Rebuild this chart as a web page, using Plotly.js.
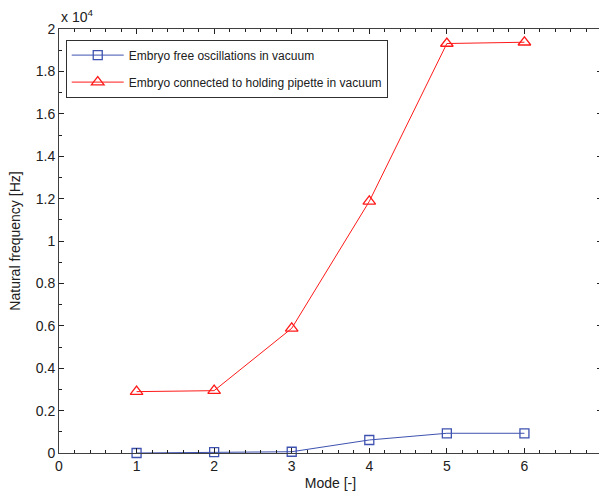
<!DOCTYPE html>
<html>
<head>
<meta charset="utf-8">
<script src="https://cdn.plot.ly/plotly-3.0.1.min.js"></script>
<style>
html, body { margin: 0; padding: 0; overflow: hidden; background: #fff; }
#chart { width: 603px; height: 501px; }
</style>
</head>
<body>
<div id="chart"></div>
<script>
var modes = [1, 2, 3, 4, 5, 6];
var freeVacuum = [0, 40, 60, 614, 930, 930];
var pipetteVacuum = [2895, 2940, 5880, 11868, 19315, 19376];
var yTickVals = [0, 2000, 4000, 6000, 8000, 10000, 12000, 14000, 16000, 18000, 20000];
var yTickText = ['0', '0.2', '0.4', '0.6', '0.8', '1', '1.2', '1.4', '1.6', '1.8', '2'];
var xTickVals = [0, 1, 2, 3, 4, 5, 6, 7];
var seriesNames = ['Embryo free oscillations in vacuum', 'Embryo connected to holding pipette in vacuum'];

var font = 'Liberation Sans, Arial, Helvetica, sans-serif';

var traces = [
  {
    x: modes, y: freeVacuum, name: seriesNames[0], type: 'scatter', mode: 'lines+markers',
    legendgroup: 'a', cliponaxis: false,
    line: {color: '#3e52b0', width: 1},
    marker: {symbol: 'square-open', size: 9, color: '#3e52b0', line: {width: 1.3}}
  },
  {
    x: modes, y: pipetteVacuum, name: seriesNames[1], type: 'scatter', mode: 'lines+markers',
    legendgroup: 'b', cliponaxis: false,
    line: {color: '#ff1a1a', width: 1},
    marker: {symbol: 'triangle-up-open', size: 11, color: '#ff1a1a', line: {width: 1.3}}
  }
];

var axisCommon = {
  showline: true, linecolor: '#404040', linewidth: 1, mirror: 'allticks',
  ticks: 'inside', ticklen: 5, tickcolor: '#202020', tickwidth: 1,
  showgrid: false, zeroline: false,
  tickfont: {family: font, size: 14, color: '#202020'}
};

var layout = {
  width: 603, height: 501,
  margin: {l: 59, r: 1, t: 29, b: 48},
  paper_bgcolor: '#fff', plot_bgcolor: '#fff',
  font: {family: font, color: '#202020'},
  showlegend: true,
  legend: {
    x: 0.0124, y: 0.975, xanchor: 'left', yanchor: 'top',
    bgcolor: '#fff', bordercolor: '#303030', borderwidth: 1,
    font: {family: font, size: 12, color: '#202020'},
    tracegroupgap: 8, traceorder: 'grouped', itemwidth: 52
  },
  xaxis: Object.assign({}, axisCommon, {
    range: [0, 7], tickmode: 'array', tickvals: xTickVals,
    minor: {dtick: 0.2, tick0: 0, ticks: 'inside', ticklen: 3, tickcolor: '#202020'},
    title: {text: 'Mode [-]', font: {family: font, size: 14, color: '#202020'}, standoff: 5}
  }),
  yaxis: Object.assign({}, axisCommon, {
    range: [0, 20000], tickmode: 'array', tickvals: yTickVals, ticktext: yTickText,
    minor: {dtick: 1000, tick0: 0, ticks: 'inside', ticklen: 3, tickcolor: '#202020'},
    title: {text: 'Natural frequency [Hz]', font: {family: font, size: 14, color: '#202020'}, standoff: 11}
  }),
  annotations: [{
    xref: 'paper', yref: 'paper', x: 0.0, y: 1.005, xanchor: 'left', yanchor: 'bottom',
    text: 'x 10<sup>4</sup>', showarrow: false,
    font: {family: font, size: 14, color: '#202020'}
  }]
};

Plotly.newPlot('chart', traces, layout, {displayModeBar: false, staticPlot: true});
</script>
</body>
</html>
